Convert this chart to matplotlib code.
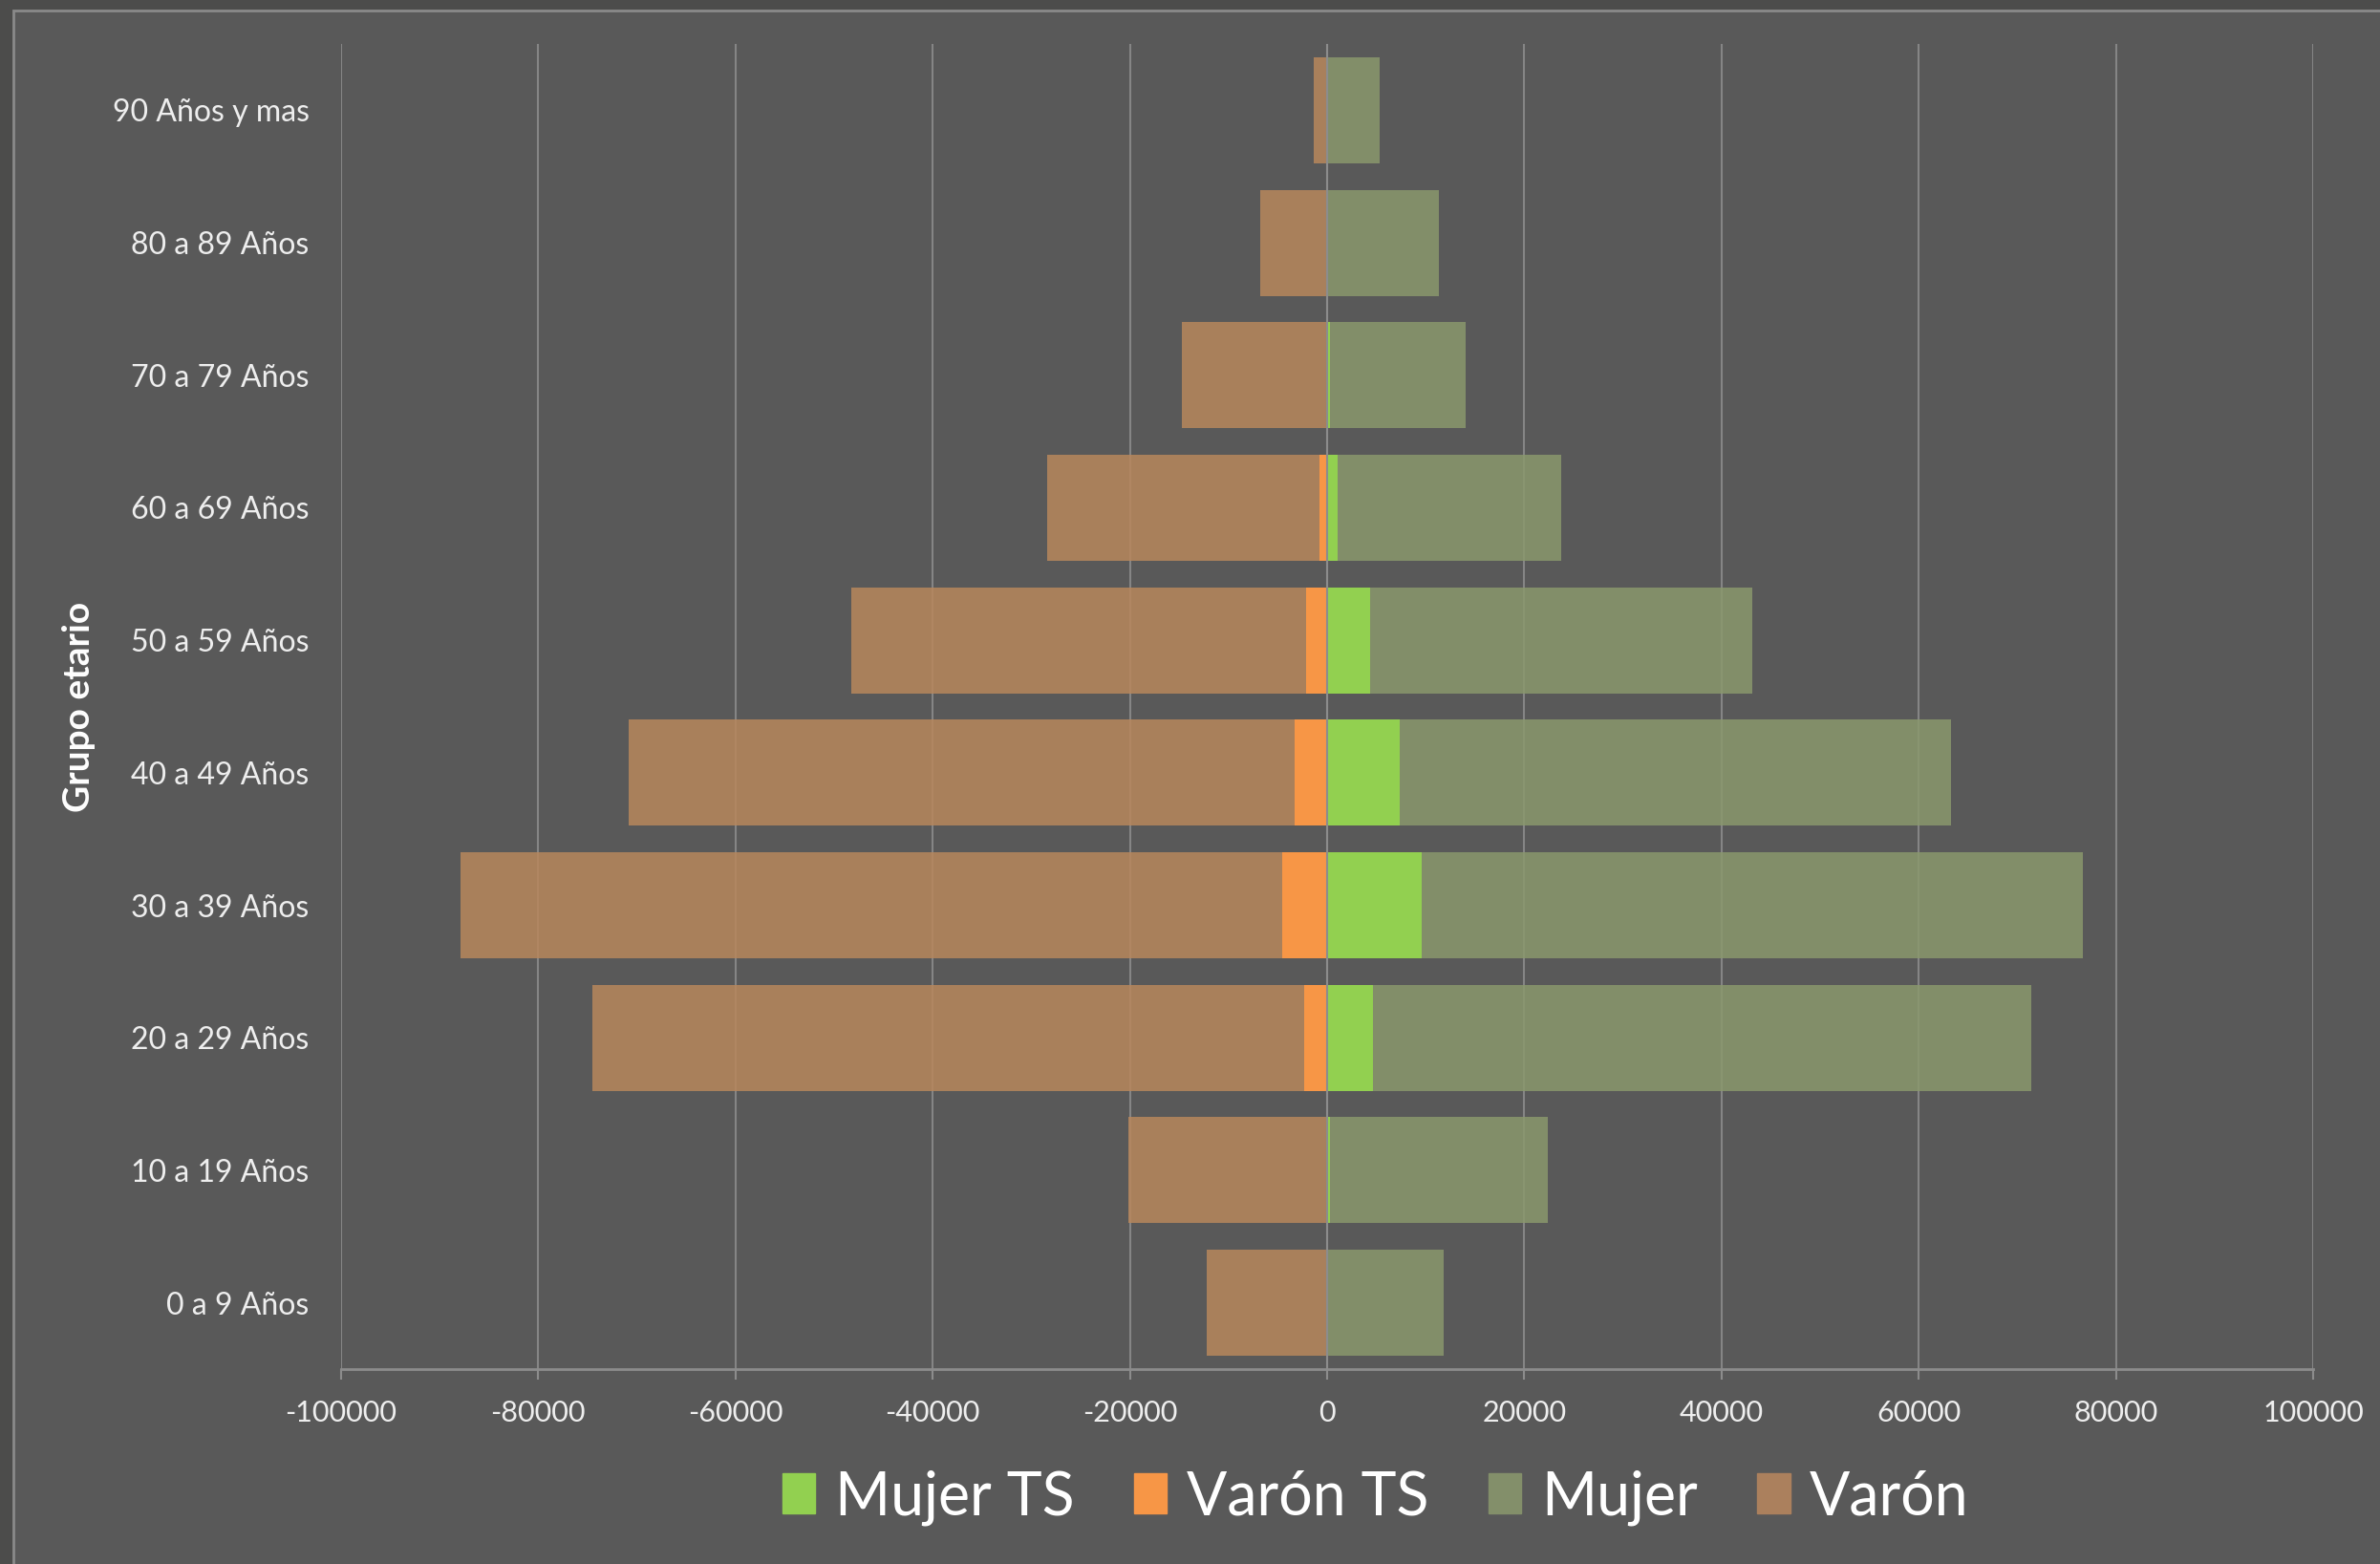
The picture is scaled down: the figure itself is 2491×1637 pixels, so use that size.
import numpy as np
import matplotlib
matplotlib.use("Agg")
import matplotlib.pyplot as plt
from matplotlib.patches import Rectangle, Patch

plt.rcParams['font.family'] = ['Lato', 'DejaVu Sans']

# data (people per age group)
grupos = ['0 a 9 Años', '10 a 19 Años', '20 a 29 Años', '30 a 39 Años', '40 a 49 Años',
          '50 a 59 Años', '60 a 69 Años', '70 a 79 Años', '80 a 89 Años', '90 Años y mas']
varon = [12250, 20200, 74500, 87900, 70800, 48300, 28400, 14700, 6750, 1310]
mujer = [11850, 22400, 71450, 76600, 63300, 43100, 23700, 14100, 11350, 5350]
varon_ts = [0, 0, 2300, 4550, 3300, 2100, 800, 0, 0, 0]
mujer_ts = [0, 300, 4650, 9550, 7350, 4350, 1100, 300, 0, 0]
xticks = list(range(-100000, 100001, 20000))

bg = '#595959'
c_varon = '#b8875c'
c_mujer = '#8a986d'
c_varon_ts = '#f79646'
c_mujer_ts = '#92d050'
gridc = '#858585'
txtc = '#eeeeee'

fig = plt.figure(figsize=(24.91, 16.37), dpi=100)
fig.patch.set_facecolor('#4c4c4b')
# chart area
fig.patches.append(Rectangle((14 / 2491, -0.02), 1.02, 1 - 11 / 1637 + 0.02,
                             transform=fig.transFigure, facecolor=bg,
                             edgecolor='#8a8a8a', linewidth=2, zorder=-1))

ax = fig.add_axes([0.1433, 0.1246, 0.8286, 0.8473])
ax.set_zorder(1)
ax.set_facecolor(bg)
ax.set_axisbelow(True)

y = np.arange(len(grupos))
h = 0.8
ax.barh(y, mujer, height=h, color=c_mujer, alpha=0.85, zorder=2)
ax.barh(y, -np.array(varon), height=h, color=c_varon, alpha=0.85, zorder=2)
ax.barh(y, mujer_ts, height=h, color=c_mujer_ts, zorder=3)
ax.barh(y, -np.array(varon_ts), height=h, color=c_varon_ts, zorder=3)
ax.axvline(0, color='#8c8c8c', lw=1.5, zorder=4)

ax.set_xlim(-100000, 100000)
ax.set_ylim(-0.5, 9.5)
ax.set_xticks(xticks)
ax.set_xticklabels([str(v) for v in xticks])
ax.set_yticks(y)
ax.set_yticklabels(grupos)
ax.grid(axis='x', color=gridc, lw=1.5)

for s in ['top', 'right', 'left']:
    ax.spines[s].set_visible(False)
ax.spines['bottom'].set_color('#8c8c8c')
ax.spines['bottom'].set_linewidth(2)
ax.tick_params(axis='x', colors='#8c8c8c', length=8, width=1.5, pad=15,
               labelcolor=txtc, labelsize=22)
ax.tick_params(axis='y', length=0, pad=24, labelcolor=txtc, labelsize=23)

fig.text(83 / 2491, 0.548, 'Grupo etario', rotation=90, color='white',
         fontsize=28, fontweight='bold', ha='center', va='center')

handles = [Patch(color=c_mujer_ts, label='Mujer TS'),
           Patch(color=c_varon_ts, label='Varón TS'),
           Patch(color='#838f6a', label='Mujer'),
           Patch(color='#ab805d', label='Varón')]
fig.legend(handles=handles, loc='center', bbox_to_anchor=(0.578, 0.0425), ncol=4,
           frameon=False, fontsize=45, labelcolor='white', handlelength=0.55,
           handleheight=0.65, handletextpad=0.33, columnspacing=1.0)

fig.savefig('out.png', dpi=100, facecolor=fig.get_facecolor())
